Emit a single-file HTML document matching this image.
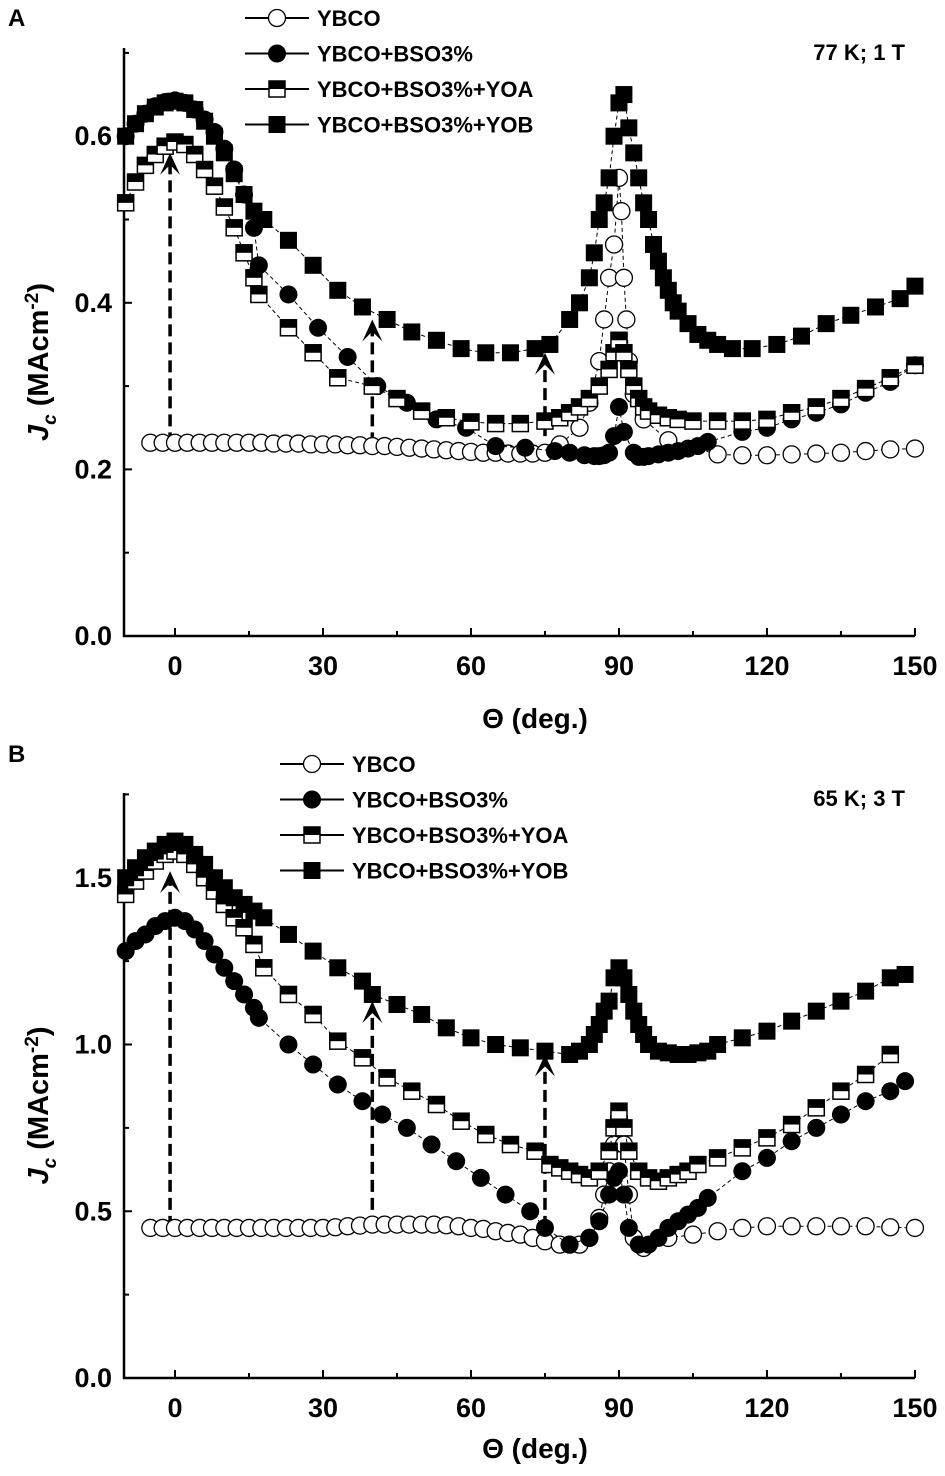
<!DOCTYPE html>
<html><head><meta charset="utf-8">
<style>
body{margin:0;background:#fff;}
svg{display:block;font-family:"Liberation Sans",Arial,sans-serif;font-weight:bold;}
</style></head>
<body>
<svg id="chart" width="945" height="1476" viewBox="0 0 945 1476"></svg>
<script>
const xTicks=[0,30,60,90,120,150];
const aTicks=[0.0,0.2,0.4,0.6];
const bTicks=[0.0,0.5,1.0,1.5];
// Panel A data
const aYbcoX=[-5,-2.5,0,2.5,5,7.5,10,12.5,15,17.5,20,22.5,25,27.5,30,32.5,35,37.5,40,42.5,45,47.5,50,52.5,55,57.5,60,62.5,65,67.5,70,72.5,75,78,82,84,86,87,88,89,90,90.5,91,91.5,92,93,95,100,110,115,120,125,130,135,140,145,150];
const aYbcoY=[0.232,0.232,0.232,0.232,0.232,0.232,0.232,0.232,0.232,0.232,0.231,0.231,0.231,0.23,0.23,0.23,0.229,0.229,0.228,0.228,0.227,0.226,0.225,0.224,0.223,0.222,0.221,0.22,0.22,0.219,0.219,0.219,0.22,0.23,0.25,0.28,0.33,0.38,0.43,0.47,0.55,0.51,0.43,0.38,0.33,0.29,0.26,0.235,0.218,0.217,0.217,0.218,0.219,0.22,0.222,0.224,0.225];
const aBsoX=[-10,-8,-6,-4,-2,0,2,4,6,8,10,12,14,16,17,23,29,35,41,47,53,59,65,71,77,80,83,85,86,87,88,89,90,91,93,94,95,96,98,100,102,104,106,108,115,120,125,130,135,140,145,150];
const aBsoY=[0.6,0.615,0.627,0.636,0.641,0.643,0.64,0.632,0.62,0.605,0.585,0.56,0.53,0.49,0.445,0.41,0.37,0.335,0.3,0.28,0.26,0.25,0.228,0.226,0.222,0.22,0.217,0.216,0.216,0.217,0.22,0.24,0.275,0.245,0.22,0.215,0.215,0.216,0.218,0.22,0.222,0.225,0.228,0.233,0.245,0.25,0.26,0.268,0.278,0.292,0.305,0.325];
const aYoaX=[-10,-8,-6,-4,-2,0,2,4,6,8,10,12,14,16,17,23,28,33,40,45,50,55,60,65,70,75,78,80,82,84,86,88,89,90,91,92,93,94,95,96,98,100,102,105,110,115,120,125,130,135,140,145,150];
const aYoaY=[0.52,0.545,0.565,0.578,0.588,0.593,0.59,0.578,0.56,0.54,0.515,0.49,0.46,0.43,0.41,0.37,0.34,0.31,0.3,0.285,0.27,0.262,0.257,0.255,0.255,0.258,0.262,0.268,0.275,0.285,0.3,0.32,0.34,0.355,0.34,0.32,0.3,0.285,0.275,0.27,0.265,0.262,0.26,0.258,0.258,0.258,0.26,0.268,0.275,0.285,0.297,0.31,0.325];
const aYobX=[-10,-8,-6,-4,-2,0,2,4,6,8,10,12,14,16,18,23,28,33,38,43,48,53,58,63,68,73,76,80,82,84,85,86,87,88,89,90,91,92,93,94,95,96,97,98,99,100,101,102,104,106,108,110,113,117,122,127,132,137,142,147,150];
const aYobY=[0.6,0.615,0.627,0.635,0.64,0.642,0.64,0.632,0.618,0.6,0.58,0.555,0.53,0.51,0.5,0.475,0.445,0.415,0.395,0.38,0.365,0.355,0.345,0.34,0.34,0.345,0.35,0.38,0.4,0.43,0.46,0.5,0.52,0.55,0.6,0.64,0.65,0.61,0.58,0.55,0.52,0.5,0.47,0.45,0.43,0.415,0.4,0.39,0.375,0.362,0.355,0.35,0.345,0.345,0.35,0.36,0.375,0.385,0.395,0.405,0.42];
// Panel B data
const bYbcoX=[-5,-2.5,0,2.5,5,7.5,10,12.5,15,17.5,20,22.5,25,27.5,30,32.5,35,37.5,40,42.5,45,47.5,50,52.5,55,57.5,60,62.5,65,67.5,70,72.5,75,78,80,82,84,86,87,88,89,90,91,92,93,95,100,105,110,115,120,125,130,135,140,145,150];
const bYbcoY=[0.45,0.45,0.45,0.45,0.45,0.45,0.45,0.45,0.45,0.45,0.45,0.45,0.45,0.45,0.45,0.452,0.455,0.457,0.46,0.46,0.46,0.46,0.46,0.46,0.458,0.455,0.45,0.447,0.44,0.435,0.43,0.42,0.41,0.4,0.4,0.4,0.42,0.48,0.55,0.62,0.7,0.78,0.7,0.55,0.42,0.39,0.42,0.43,0.44,0.45,0.455,0.455,0.455,0.455,0.455,0.452,0.45];
const bBsoX=[-10,-8,-6,-4,-2,0,2,4,6,8,10,12,14,16,17,23,28,33,38,42,47,52,57,62,67,72,75,80,84,86,88,89,90,91,92,94,96,98,100,102,104,106,108,115,120,125,130,135,140,145,148];
const bBsoY=[1.28,1.31,1.33,1.355,1.37,1.38,1.37,1.345,1.31,1.27,1.23,1.19,1.15,1.11,1.08,1.0,0.94,0.88,0.83,0.79,0.75,0.7,0.65,0.6,0.55,0.5,0.45,0.4,0.42,0.47,0.55,0.6,0.62,0.55,0.45,0.4,0.4,0.42,0.45,0.47,0.49,0.51,0.54,0.62,0.66,0.71,0.75,0.79,0.83,0.86,0.89];
const bYoaX=[-10,-8,-6,-4,-2,0,2,4,6,8,10,12,14,16,18,23,28,33,38,43,48,53,58,63,68,73,76,78,80,82,84,86,88,89,90,91,92,94,96,98,100,102,104,106,110,115,120,125,130,135,140,145];
const bYoaY=[1.45,1.49,1.52,1.55,1.57,1.58,1.57,1.54,1.5,1.46,1.42,1.38,1.35,1.3,1.23,1.15,1.09,1.01,0.96,0.9,0.86,0.82,0.77,0.73,0.7,0.68,0.64,0.63,0.62,0.61,0.6,0.62,0.68,0.75,0.8,0.75,0.68,0.62,0.6,0.59,0.6,0.61,0.62,0.64,0.66,0.69,0.72,0.76,0.81,0.86,0.91,0.97];
const bYobX=[-10,-8,-6,-4,-2,0,2,4,6,8,10,12,14,16,18,23,28,33,38,40,45,50,55,60,65,70,75,80,82,84,85,86,87,88,89,90,91,92,93,94,95,96,98,100,102,104,106,108,110,115,120,125,130,135,140,145,148];
const bYobY=[1.5,1.53,1.56,1.58,1.6,1.61,1.6,1.57,1.54,1.5,1.47,1.44,1.42,1.4,1.38,1.33,1.28,1.23,1.19,1.15,1.12,1.09,1.05,1.02,1.0,0.99,0.98,0.97,0.98,1.0,1.03,1.06,1.1,1.13,1.2,1.23,1.2,1.15,1.1,1.06,1.03,1.0,0.98,0.975,0.97,0.97,0.975,0.98,1.0,1.02,1.04,1.07,1.1,1.13,1.16,1.2,1.21];
// arrows
const aArrowX=[-1,40,75], aArrowFrom=[0.23,0.23,0.24], aArrowTo=[0.58,0.38,0.34];
const bArrowX=[-1,40,75], bArrowFrom=[0.45,0.45,0.45], bArrowTo=[1.52,1.13,0.97];

const svg=document.getElementById('chart');
const NS='http://www.w3.org/2000/svg';
function mk(tag,attrs,parent){const e=document.createElementNS(NS,tag);for(const k in attrs)e.setAttribute(k,attrs[k]);(parent||svg).appendChild(e);return e;}
function xs(v){return 175+(v)*4.933;}

function panel(cfg){
  const g=mk('g',{});
  
  
  const ys=v=>cfg.y0-v*cfg.k;
  const top=cfg.top, bot=cfg.y0;
  const ax=mk('path',{d:`M124 ${top} V${bot} H915`,stroke:'#000','stroke-width':2.5,fill:'none'},g);
  
  
  xTicks.forEach(t=>{
    mk('line',{x1:xs(t),x2:xs(t),y1:bot,y2:bot-8,stroke:'#000','stroke-width':2},g);
    const tx=mk('text',{x:xs(t),y:bot+39,'font-size':27,'text-anchor':'middle'},g);tx.textContent=t;
    
    
  });
  for(let t=15;t<=135;t+=30) mk('line',{x1:xs(t),x2:xs(t),y1:bot,y2:bot-5,stroke:'#000','stroke-width':2},g);
  cfg.ticks.forEach((t,i)=>{
    mk('line',{x1:124,x2:132,y1:ys(t),y2:ys(t),stroke:'#000','stroke-width':2},g);
    const step=cfg.ticks[1]-cfg.ticks[0];
    if(ys(t+step/2)>top) mk('line',{x1:124,x2:129,y1:ys(t+step/2),y2:ys(t+step/2),stroke:'#000','stroke-width':2},g);
    const tx=mk('text',{x:112,y:ys(t)+9,'font-size':27,'text-anchor':'end'},g);tx.textContent=t.toFixed(1);
    
    
  });
  const xt=mk('text',{x:535,y:bot+cfg.titleOff,'font-size':28,'text-anchor':'middle'},g);xt.textContent='Θ (deg.)';
  
  
  const yt=mk('text',{x:0,y:0,'font-size':29,'text-anchor':'middle',transform:`translate(48 ${(top+bot)/2+20}) rotate(-90)`},g);
  yt.innerHTML='<tspan font-style="italic">J</tspan><tspan font-size="19" dy="8" font-style="italic">c</tspan><tspan dy="-8"> (MAcm</tspan><tspan font-size="19" dy="-10">-2</tspan><tspan dy="10">)</tspan>';
  
  
  const pl=mk('text',{x:8,y:cfg.labelY,'font-size':24},g);pl.textContent=cfg.label;
  
  
  const cond=mk('text',{x:905,y:cfg.condY,'font-size':22,'text-anchor':'end'},g);cond.textContent=cfg.cond;
  
  
  cfg.arrows[0].forEach((x,i)=>{
    const X=xs(x),y1=ys(cfg.arrows[1][i]),y2=ys(cfg.arrows[2][i]);
    const ar=mk('g',{},g);
    
    
    mk('line',{x1:X,x2:X,y1:y1,y2:y2+4,stroke:'#000','stroke-width':3.5,'stroke-dasharray':'12 6'},ar);
    mk('path',{d:`M${X-10} ${y2+22} L${X} ${y2} L${X+10} ${y2+22} L${X} ${y2+12}Z`,fill:'#000'},ar);
  });
  cfg.series.forEach(s=>{
    const sg=mk('g',{},g);
    
    
    let d='';s.x.forEach((x,i)=>{d+=(i?'L':'M')+xs(x)+' '+ys(s.y[i]);});
    mk('path',{d:d,stroke:'#000','stroke-width':1,fill:'none','stroke-dasharray':'4 3'},sg);
    s.x.forEach((x,i)=>marker(sg,s.m,xs(x),ys(s.y[i])));
  });
  cfg.series.forEach((s,i)=>{
    const y=cfg.legY+i*35.5;
    const lg=mk('g',{},g);
    
    
    mk('line',{x1:cfg.legX,x2:cfg.legX+64,y1:y,y2:y,stroke:'#000','stroke-width':2},lg);
    marker(lg,s.m,cfg.legX+32,y);
    const t=mk('text',{x:cfg.legX+72,y:y+8,'font-size':22},lg);t.textContent=s.label;
  });
}
function marker(g,m,x,y){
  if(m==='oc') mk('circle',{cx:x,cy:y,r:8.5,fill:'#fff',stroke:'#000','stroke-width':1.3},g);
  else if(m==='fc') mk('circle',{cx:x,cy:y,r:9,fill:'#000'},g);
  else if(m==='fs') mk('rect',{x:x-8.5,y:y-8.5,width:17,height:17,fill:'#000'},g);
  else {mk('rect',{x:x-8,y:y-8,width:16,height:16,fill:'#fff',stroke:'#000','stroke-width':1.5},g);
        mk('rect',{x:x-8,y:y-8,width:16,height:8,fill:'#000'},g);}
}
panel({name:'panel-a',y0:636,k:833,top:48,ticks:aTicks,label:'A',labelY:26,cond:'77 K; 1 T',condY:60,legX:245,legY:18,titleOff:92,
  arrows:[aArrowX,aArrowFrom,aArrowTo],
  series:[{name:'series-ybco',label:'YBCO',m:'oc',x:aYbcoX,y:aYbcoY},
          {name:'series-ybco-bso',label:'YBCO+BSO3%',m:'fc',x:aBsoX,y:aBsoY},
          {name:'series-ybco-bso-yoa',label:'YBCO+BSO3%+YOA',m:'hs',x:aYoaX,y:aYoaY},
          {name:'series-ybco-bso-yob',label:'YBCO+BSO3%+YOB',m:'fs',x:aYobX,y:aYobY}]});
panel({name:'panel-b',y0:1378,k:333.5,top:793,ticks:bTicks,label:'B',labelY:762,cond:'65 K; 3 T',condY:806,legX:280,legY:764,titleOff:80,
  arrows:[bArrowX,bArrowFrom,bArrowTo],
  series:[{name:'series-ybco',label:'YBCO',m:'oc',x:bYbcoX,y:bYbcoY},
          {name:'series-ybco-bso',label:'YBCO+BSO3%',m:'fc',x:bBsoX,y:bBsoY},
          {name:'series-ybco-bso-yoa',label:'YBCO+BSO3%+YOA',m:'hs',x:bYoaX,y:bYoaY},
          {name:'series-ybco-bso-yob',label:'YBCO+BSO3%+YOB',m:'fs',x:bYobX,y:bYobY}]});
</script>
</body></html>
